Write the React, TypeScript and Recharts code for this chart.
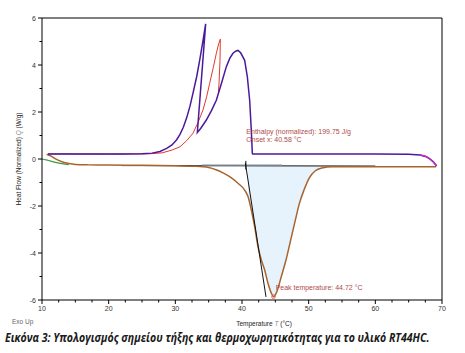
import React, { useLayoutEffect, useRef, useState } from 'react';
import { ComposedChart, Line, Area, XAxis, YAxis, ReferenceLine, ReferenceDot } from 'recharts';

// Heating curve (purple), [T, Q]
const purpleT = [10.9, 14, 18, 22, 25, 26.5, 27.7, 28.7, 29.5, 30.2, 30.7, 31.2, 31.7, 32.2, 32.65, 33.2, 33.65, 34.1, 34.55, 33.3, 33.8, 34.65, 35.4, 36.15, 36.9, 37.65, 38.2, 38.65, 39.1, 39.4, 39.8, 40.4, 40.8, 41.15, 41.4, 41.55, 41.6, 50, 60, 65, 66.7, 67.65, 68.2, 68.65, 69.2];
const purpleQ = [0.21, 0.21, 0.21, 0.21, 0.22, 0.25, 0.32, 0.45, 0.6, 0.82, 1.05, 1.35, 1.75, 2.25, 2.8, 3.5, 4.2, 4.95, 5.75, 1.13, 1.3, 1.66, 2.05, 2.5, 3.2, 3.93, 4.3, 4.5, 4.6, 4.62, 4.52, 4.2, 3.5, 2.5, 1.2, 0.24, 0.21, 0.21, 0.21, 0.2, 0.17, 0.1, 0.0, -0.11, -0.3];
// Magenta tail of the heating curve
const magentaT = [66.7, 67.65, 68.2, 68.65, 69.2];
const magentaQ = [0.17, 0.1, 0.0, -0.11, -0.3];
// Red curve
const redT = [10.9, 20, 26, 28, 29.5, 30.7, 31.7, 32.65, 33.4, 34.15, 34.7, 35.15, 35.7, 36.15, 36.5, 36.75, 36.7, 36.55, 36.45];
const redQ = [0.22, 0.21, 0.22, 0.26, 0.38, 0.52, 0.78, 1.1, 1.55, 2.09, 2.65, 3.22, 3.9, 4.5, 4.9, 5.1, 4.2, 3.2, 2.8];
// Melting curve (brown)
const brownT = [10.7, 11.3, 11.9, 12.5, 13.2, 14, 15, 17, 20, 25, 30, 33, 35, 36.2, 37.2, 38.15, 39.4, 40.4, 40.9, 41.4, 41.9, 42.4, 42.9, 43.4, 43.9, 44.4, 44.72, 45.15, 45.9, 46.6, 47.3, 48.0, 48.6, 49.3, 50.1, 51.0, 52.0, 53.5, 60, 65, 69.1];
const brownQ = [0.2, 0.13, 0.03, -0.06, -0.14, -0.19, -0.23, -0.25, -0.26, -0.27, -0.29, -0.31, -0.36, -0.47, -0.6, -0.75, -1.03, -1.32, -1.6, -2.17, -2.88, -3.73, -4.3, -4.72, -5.29, -5.71, -5.86, -5.7, -5.0, -4.3, -3.45, -2.6, -1.9, -1.32, -0.8, -0.5, -0.38, -0.33, -0.33, -0.33, -0.33];
// Green start
const greenT = [10, 10.8, 11.8, 13, 14];
const greenQ = [0.0, -0.05, -0.13, -0.2, -0.24];
// Baseline, onset tangent helpers
const baselineT = [22, 60];
const baselineQ = [-0.28, -0.3];
const grayT = [34, 46];
const grayQ = [-0.26, -0.26];
const tangentT = [40.5, 43.6];
const tangentQ = [-0.16, -5.87];
const onsetTickT = [40.58, 40.58];
const onsetTickQ = [-0.08, -0.45];
const areaBase = -0.3;

const xTicks = [10, 12.5, 15, 17.5, 20, 22.5, 25, 27.5, 30, 32.5, 35, 37.5, 40, 42.5, 45, 47.5, 50, 52.5, 55, 57.5, 60, 62.5, 65, 67.5, 70];
const yTicks = [-6, -5, -4, -3, -2, -1, 0, 1, 2, 3, 4, 5, 6];

const CAPTION = 'Εικόνα 3: Υπολογισμός σημείου τήξης και θερμοχωρητικότητας για το υλικό RT44HC.';

const zip = (t: number[], q: number[]) => t.map((x, i) => ({ x, y: q[i] }));

const purple = zip(purpleT, purpleQ);
const magenta = zip(magentaT, magentaQ);
const red = zip(redT, redQ);
const brown = zip(brownT, brownQ);
const green = zip(greenT, greenQ);
const baseline = zip(baselineT, baselineQ);
const gray = zip(grayT, grayQ);
const tangent = zip(tangentT, tangentQ);
const onsetTick = zip(onsetTickT, onsetTickQ);
const area = brown.filter(p => p.x >= 40.5 && p.x <= 53.5).map(p => ({ x: p.x, r: [p.y, areaBase] }));

const FONT = '"Liberation Sans", Arial, sans-serif';

const YTick = (props: any) => {
  const { x, y, payload } = props;
  const v = payload.value;
  const major = v % 2 === 0;
  return (
    <g>
      <line x1={x - (major ? 4 : 2.5)} x2={x} y1={y} y2={y} stroke="#000" strokeWidth={1} />
      {major && (
        <text x={x - 6} y={y} dy={2.5} textAnchor="end" fontSize={7} fill="#333" fontFamily={FONT}>{v}</text>
      )}
    </g>
  );
};

const XTick = (props: any) => {
  const { x, y, payload } = props;
  const v = payload.value;
  const major = v % 10 === 0;
  return (
    <g>
      <line x1={x} x2={x} y1={y} y2={y + (major ? 4 : 2.5)} stroke="#000" strokeWidth={1} />
      {major && (
        <text x={x} y={y} dy={11} textAnchor="middle" fontSize={7} fill="#333" fontFamily={FONT}>{v}</text>
      )}
    </g>
  );
};

const annot = (value: string) => ({ value, position: 'right' as const, offset: 0, fontSize: 7, fill: '#b04a4a', fontFamily: FONT });

function Caption() {
  const ref = useRef<SVGTextElement>(null);
  const [sx, setSx] = useState(1);
  useLayoutEffect(() => {
    if (ref.current) {
      const L = ref.current.getComputedTextLength();
      if (L > 0) setSx(425 / L);
    }
  }, []);
  return (
    <text ref={ref} x={0} y={0} transform={`translate(5,342) scale(${sx},1)`} fontSize={12} fontWeight="bold" fontStyle="italic"
      fill="#1a1a1a" fontFamily='"Open Sans", "Liberation Sans", sans-serif'>
      {CAPTION}
    </text>
  );
}

export default function App() {
  return (
    <div style={{ position: 'absolute', left: 0, top: 0, width: 465, height: 353, background: '#fff' }}>
      <ComposedChart width={465} height={320} margin={{ top: 18, right: 23, bottom: 0, left: 12 }}>
        <XAxis type="number" dataKey="x" domain={[10, 70]} ticks={xTicks} interval={0} height={20}
          tickSize={0} tickMargin={0} tick={<XTick />} axisLine={{ stroke: '#000' }} allowDataOverflow />
        <YAxis type="number" domain={[-6, 6]} ticks={yTicks} interval={0} width={30}
          tickSize={0} tickMargin={0} tick={<YTick />} axisLine={{ stroke: '#000' }} allowDataOverflow />
        <ReferenceLine y={6} stroke="#000" strokeWidth={1} />
        <ReferenceLine x={70} stroke="#000" strokeWidth={1} />
        <Area data={area} dataKey="r" type="linear" fill="#e6f3fc" fillOpacity={1} stroke="none" isAnimationActive={false} />
        <Line data={baseline} dataKey="y" type="linear" stroke="#111" strokeWidth={1} dot={false} isAnimationActive={false} />
        <Line data={green} dataKey="y" type="monotone" stroke="#3c9a3c" strokeWidth={1.2} dot={false} isAnimationActive={false} />
        <Line data={brown} dataKey="y" type="monotone" stroke="#a8642e" strokeWidth={1.5} dot={false} isAnimationActive={false} />
        <Line data={gray} dataKey="y" type="linear" stroke="#7f8fa0" strokeWidth={1.3} dot={false} isAnimationActive={false} />
        <Line data={tangent} dataKey="y" type="linear" stroke="#111" strokeWidth={1} dot={false} isAnimationActive={false} />
        <Line data={onsetTick} dataKey="y" type="linear" stroke="#111" strokeWidth={1} dot={false} isAnimationActive={false} />
        <Line data={red} dataKey="y" type="linear" stroke="#e23a2a" strokeWidth={1} dot={false} isAnimationActive={false} />
        <Line data={purple} dataKey="y" type="linear" stroke="#4a1a9c" strokeWidth={1.5} dot={false} isAnimationActive={false} />
        <Line data={magenta} dataKey="y" type="monotone" stroke="#c02cc4" strokeWidth={1.5} dot={false} isAnimationActive={false} />
        <ReferenceDot x={44.72} y={-5.86} r={1.8} fill="none" stroke="#e05050" strokeWidth={0.8} />
        <ReferenceDot x={40.65} y={1.19} r={0} stroke="none" label={annot('Enthalpy (normalized): 199.75 J/g')} />
        <ReferenceDot x={40.65} y={0.81} r={0} stroke="none" label={annot('Onset x: 40.58 °C')} />
        <ReferenceDot x={45.05} y={-5.45} r={0} stroke="none" label={annot('Peak temperature: 44.72 °C')} />
      </ComposedChart>
      <svg width={465} height={353} style={{ position: 'absolute', left: 0, top: 0, pointerEvents: 'none' }}>
        <text x={0} y={0} transform="translate(21,159) rotate(-90)" textAnchor="middle" fontSize={6.5} fill="#222" fontFamily={FONT}>
          Heat Flow (Normalized) <tspan fill="#888" fontStyle="italic">Q</tspan> (W/g)
        </text>
        <text x={264} y={326} textAnchor="middle" fontSize={6.5} fill="#222" fontFamily={FONT}>
          Temperature <tspan fill="#888" fontStyle="italic">T</tspan> (°C)
        </text>
        <text x={12} y={324} fontSize={6.5} fill="#666" fontFamily={FONT}>Exo Up</text>
        <Caption />
      </svg>
    </div>
  );
}
